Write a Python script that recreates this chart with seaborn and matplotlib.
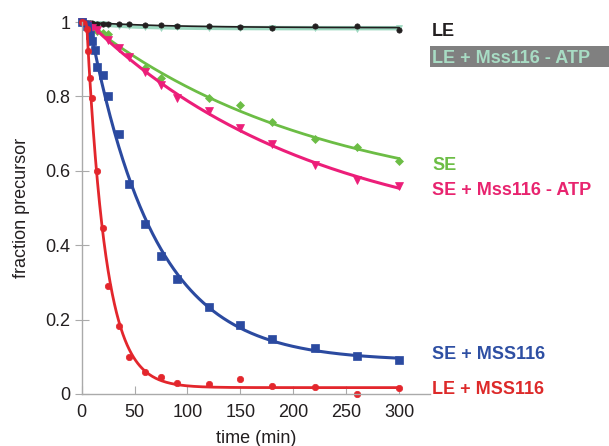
import numpy as np
import pandas as pd
import seaborn as sns
import matplotlib
matplotlib.use("Agg")
import matplotlib.pyplot as plt
from matplotlib.patches import Rectangle

# time points (min) and fraction precursor
t_le = [0, 2.5, 5, 7.5, 10, 15, 20, 25, 35, 45, 60, 75, 90, 120, 150, 180, 220, 260, 300]
le = [1.0, 1.0, 0.998, 0.997, 0.997, 0.996, 0.995, 0.995, 0.994, 0.994, 0.992, 0.991, 0.99, 0.988, 0.987, 0.985, 0.99, 0.988, 0.979]
t_le_atp = [0, 2.5, 5, 7.5, 10, 15, 20, 25, 35, 45, 60, 75, 90, 120, 150, 180, 220, 260, 300]
le_atp = [1.0, 0.998, 0.997, 0.996, 0.995, 0.994, 0.994, 0.993, 0.99, 0.99, 0.987, 0.985, 0.986, 0.985, 0.984, 0.983, 0.984, 0.982, 0.984]
t_se = [0, 5, 10, 15, 20, 25, 60, 75, 120, 150, 180, 220, 260, 300]
se = [1.0, 0.995, 0.985, 0.977, 0.97, 0.968, 0.877, 0.85, 0.796, 0.776, 0.731, 0.686, 0.664, 0.626]
t_se_atp = [0, 5, 10, 15, 25, 35, 45, 60, 75, 90, 120, 150, 180, 220, 260, 300]
se_atp = [1.0, 0.993, 0.985, 0.978, 0.952, 0.93, 0.905, 0.865, 0.83, 0.796, 0.76, 0.714, 0.673, 0.616, 0.576, 0.56]
t_se_mss = [0, 5, 7.5, 10, 12.5, 15, 20, 25, 35, 45, 60, 75, 90, 120, 150, 180, 220, 260, 300]
se_mss = [1.0, 0.99, 0.966, 0.948, 0.925, 0.88, 0.858, 0.80, 0.70, 0.565, 0.457, 0.371, 0.308, 0.233, 0.186, 0.148, 0.123, 0.103, 0.092]
t_le_mss = [0, 5, 6, 7.5, 10, 15, 20, 25, 35, 45, 60, 75, 90, 120, 150, 180, 220, 260, 300]
le_mss = [1.0, 0.98, 0.922, 0.849, 0.795, 0.60, 0.445, 0.29, 0.184, 0.10, 0.059, 0.045, 0.029, 0.026, 0.04, 0.022, 0.018, 0.0, 0.017]


def fit_decay(t, v):
    # single exponential with plateau and short lag, fitted by grid search
    t = np.asarray(t, float)
    v = np.asarray(v, float)
    ks = np.logspace(-4, 0, 500)
    t0s = np.linspace(0, 10, 41)
    best = None
    for t0 in t0s:
        x = np.exp(-ks[:, None] * np.clip(t - t0, 0, None)[None, :])
        d = 1 - x
        den = (d * d).sum(1)
        den[den == 0] = 1e-12
        a = ((v - x) * d).sum(1) / den
        sse = ((a[:, None] * d + x - v) ** 2).sum(1)
        i = np.argmin(sse)
        if best is None or sse[i] < best[0]:
            best = (sse[i], ks[i], t0, a[i])
    _, k, t0, a = best
    tt = np.linspace(0, 300, 301)
    return tt, a + (1 - a) * np.exp(-k * np.clip(tt - t0, 0, None))


series = [
    (t_le_atp, le_atp, "#9dd8c0", "v", 5, 3.2),
    (t_le, le, "#231f20", "o", 3.8, 1.2),
    (t_se, se, "#6cbd45", "D", 3.6, 2.0),
    (t_se_atp, se_atp, "#ec1e79", "v", 5.5, 2.2),
    (t_se_mss, se_mss, "#2b4aa0", "s", 5.5, 2.2),
    (t_le_mss, le_mss, "#e3262c", "o", 4.6, 2.0),
]

sns.set_style("ticks")
plt.rcParams['font.family'] = ['Liberation Sans', 'DejaVu Sans']

fig = plt.figure(figsize=(6.09, 4.46), dpi=100)
ax = fig.add_axes([0.134, 0.1166, 0.572, 0.834])

for t, v, c, m, ms, lw in series:
    tt, fit = fit_decay(t, v)
    sns.lineplot(x=tt, y=fit, color=c, lw=lw, ax=ax, clip_on=False)
    df = pd.DataFrame({"time": t, "frac": v})
    ax.plot(df["time"], df["frac"], ls="none", marker=m, ms=ms, color=c, mec=c, mew=0.5, clip_on=False)

# right-hand labels
lab_y = {"LE": 0.974, "LE + Mss116 - ATP": 0.902, "SE": 0.613,
         "SE + Mss116 - ATP": 0.546, "SE + MSS116": 0.106, "LE + MSS116": 0.013}
lab_c = {"LE": "#231f20", "LE + Mss116 - ATP": "#a8dcc4", "SE": "#6cbd45",
         "SE + Mss116 - ATP": "#e8246f", "SE + MSS116": "#2e4fa3", "LE + MSS116": "#dd2a2a"}
# grey band behind the "- ATP" LE label, running to the figure edge
fig.add_artist(Rectangle((427 / 609, 1 - 67 / 446), 182 / 609, 21 / 446,
                         transform=fig.transFigure, facecolor="#808080", edgecolor="none", zorder=0))
for name in lab_y:
    ax.text(331, lab_y[name], name, color=lab_c[name], fontsize=13, fontweight="bold",
            va="center", ha="left", clip_on=False, zorder=5)

ax.set_xlim(0, 329)
ax.set_ylim(0, 1.0)
ax.set_xticks([0, 50, 100, 150, 200, 250, 300])
ax.set_yticks([0, 0.2, 0.4, 0.6, 0.8, 1.0])
ax.set_yticklabels(["0", "0.2", "0.4", "0.6", "0.8", "1"])
ax.set_xlabel("time (min)", fontsize=13, color="#231f20", labelpad=7)
ax.set_ylabel("fraction precursor", fontsize=13, color="#231f20", labelpad=11)
ax.tick_params(axis="y", direction="inout", length=10, color="#aaaaaa", labelsize=13, labelcolor="#231f20", pad=3)
ax.tick_params(axis="x", direction="in", length=6, color="#aaaaaa", labelsize=13, labelcolor="#231f20", pad=7)
for s in ["left", "bottom"]:
    ax.spines[s].set_color("#aaaaaa")
    ax.spines[s].set_linewidth(1.0)
sns.despine(ax=ax)

fig.savefig("out.png", dpi=100)
